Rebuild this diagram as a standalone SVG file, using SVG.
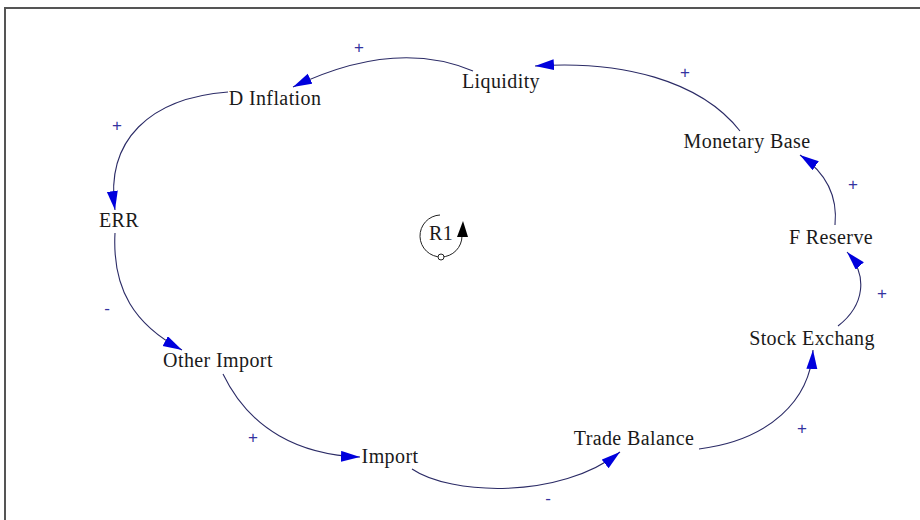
<svg xmlns="http://www.w3.org/2000/svg" width="920" height="520" viewBox="0 0 920 520">
<style>
.lbl{font-family:"Liberation Serif","Times New Roman",serif;font-size:20px;letter-spacing:0.4px;fill:#1a1a1a;text-anchor:middle}
.pol{font-family:"Liberation Sans",Arial,sans-serif;font-size:17px;fill:#3333a0;text-anchor:middle}
.link{fill:none;stroke:#2b2b66;stroke-width:1.1}
</style>
<defs>
<marker id="ah" markerUnits="userSpaceOnUse" markerWidth="22" markerHeight="12" refX="19" refY="5.5" orient="auto">
<path d="M0,0 L19,5.5 L0,11 z" fill="#0000dd"/>
</marker>
</defs>
<rect width="920" height="520" fill="#fff"/>
<path d="M5,520 L5,8 L920,8" fill="none" stroke="#555" stroke-width="2"/>
<g id="connectors">
<path class="link" marker-end="url(#ah)" d="M473,71 Q395,38 293,87"/>
<path class="link" marker-end="url(#ah)" d="M740,131 C700,80 620,60 535,66"/>
<path class="link" marker-end="url(#ah)" d="M835,225 C838,195 825,172 800,155"/>
<path class="link" marker-end="url(#ah)" d="M838,326 C865,305 868,275 847,252"/>
<path class="link" marker-end="url(#ah)" d="M699,449 C770,440 810,400 813,350"/>
<path class="link" marker-end="url(#ah)" d="M412,469 C450,495 560,500 620,452"/>
<path class="link" marker-end="url(#ah)" d="M223,374 C250,430 300,455 360,457"/>
<path class="link" marker-end="url(#ah)" d="M115,233 C112,290 135,325 182,350"/>
<path class="link" marker-end="url(#ah)" d="M228,92 C150,98 105,140 115,210"/>
</g>
<g id="polarities">
<text class="pol" x="359" y="53">+</text>
<text class="pol" x="685" y="78">+</text>
<text class="pol" x="853" y="190">+</text>
<text class="pol" x="882" y="299">+</text>
<text class="pol" x="802" y="434">+</text>
<text class="pol" x="548" y="504">-</text>
<text class="pol" x="253" y="443">+</text>
<text class="pol" x="107" y="314">-</text>
<text class="pol" x="117" y="131">+</text>
</g>
<g id="node-liquidity"><text class="lbl" x="501" y="88">Liquidity</text></g>
<g id="node-dinflation"><text class="lbl" x="275" y="105">D Inflation</text></g>
<g id="node-err"><text class="lbl" x="119" y="227">ERR</text></g>
<g id="node-otherimport"><text class="lbl" x="218" y="367">Other Import</text></g>
<g id="node-import"><text class="lbl" x="390" y="463">Import</text></g>
<g id="node-tradebalance"><text class="lbl" x="634" y="445">Trade Balance</text></g>
<g id="node-stockexchang"><text class="lbl" x="812" y="345">Stock Exchang</text></g>
<g id="node-freserve"><text class="lbl" x="831" y="244">F Reserve</text></g>
<g id="node-monetarybase"><text class="lbl" x="747" y="148">Monetary Base</text></g>
<g id="loop-r1">
<path d="M440,215 A21,21 0 1 0 462,236" fill="none" stroke="#222" stroke-width="1"/>
<path d="M463,221 L468,237 L457,237 z" fill="#000"/>
<circle cx="441" cy="257" r="3" fill="#fff" stroke="#222" stroke-width="1"/>
<text class="lbl" x="441" y="240">R1</text>
</g>
</svg>
